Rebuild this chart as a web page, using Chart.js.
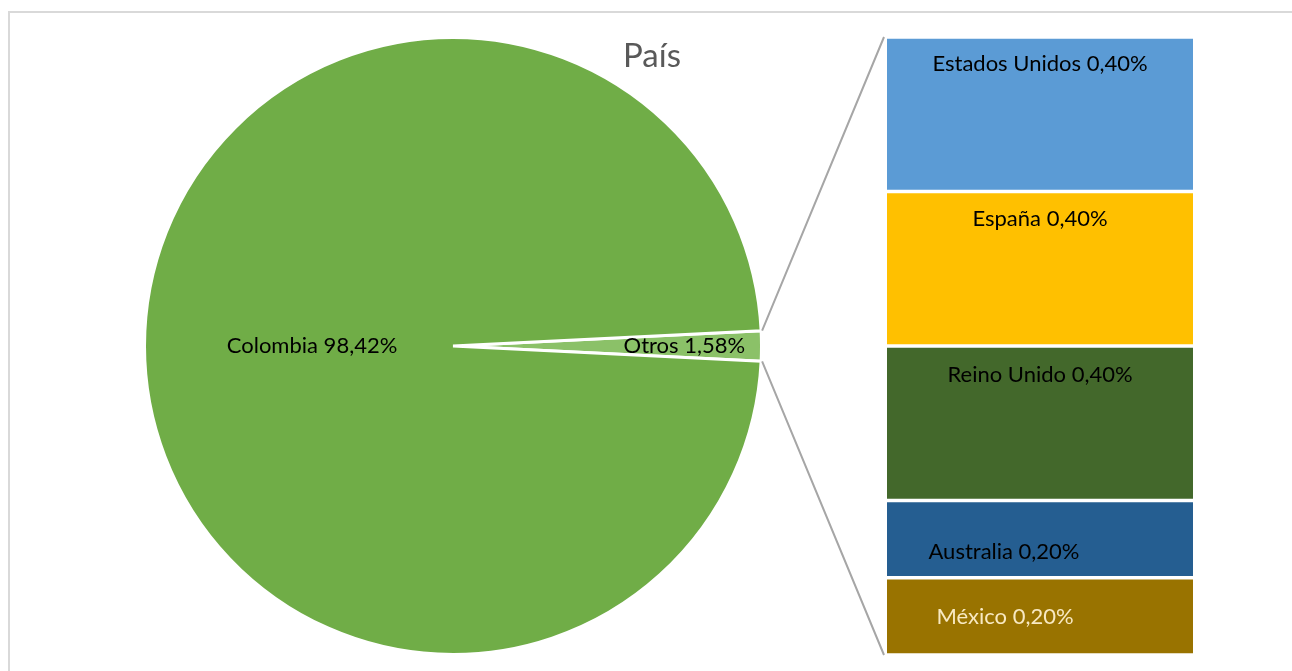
<!DOCTYPE html>
<html>
<head>
<meta charset="utf-8">
<script src="https://cdn.jsdelivr.net/npm/chart.js@4.4.1/dist/chart.umd.min.js"></script>
<style>
  html, body { margin: 0; padding: 0; background: #fff; }
  #page { position: relative; width: 1292px; height: 671px; overflow: hidden; }
  #frame { position: absolute; left: 8px; top: 11px; width: 1400px; height: 800px;
           border-left: 2px solid #d9d9d9; border-top: 2px solid #d9d9d9; }
  #title { position: absolute; left: 552px; top: 38px; width: 200px; text-align: center;
           font: 33px/33px Lato, sans-serif; color: #595959; }
  #pie { position: absolute; left: 143px; top: 36px; }
  #bar { position: absolute; left: 887px; top: 37px; }
  #links { position: absolute; left: 0; top: 0; pointer-events: none; }
</style>
</head>
<body>
<div id="page">
  <div id="frame"></div>
  <canvas id="pie" width="620" height="620"></canvas>
  <canvas id="bar" width="306" height="618"></canvas>
  <canvas id="links" width="1292" height="671"></canvas>
  <div id="title">País</div>
</div>
<script>
// pie: main split
const pieLabels = ["Otros", "Colombia"];
const pieValues = [1.58, 98.42];
const pieColors = ["#8bc168", "#70ad47"];

// bar: breakdown of "Otros", listed top to bottom
const barLabels = ["Estados Unidos", "España", "Reino Unido", "Australia", "México"];
const barValues = [0.40, 0.40, 0.40, 0.20, 0.20];
const barColors = ["#5b9bd5", "#ffc000", "#43682b", "#255e91", "#997300"];

const LABEL_FONT = "22px Lato, sans-serif";
// where each label sits: pie as fraction of radius, bar as fraction of segment height + x nudge
const PIE_LABEL_RADIUS = [0.75, 0.457];
const BAR_LABEL_POS = [
  { fy: 0.173, dx: 0, color: "#000" },
  { fy: 0.18, dx: 0, color: "#000" },
  { fy: 0.187, dx: 0, color: "#000" },
  { fy: 0.67, dx: -36, color: "#000" },
  { fy: 0.51, dx: -35, color: "#f8e9c2" },
];

function pct(v) {
  return v.toFixed(2).replace(".", ",") + "%";
}

const pieLabelPlugin = {
  id: "pieLabels",
  afterDatasetsDraw(chart) {
    const ctx = chart.ctx;
    ctx.save();
    ctx.font = LABEL_FONT;
    ctx.fillStyle = "#000";
    ctx.textAlign = "center";
    ctx.textBaseline = "middle";
    chart.getDatasetMeta(0).data.forEach((arc, i) => {
      const p = arc.getProps(["x", "y", "startAngle", "endAngle", "outerRadius"], true);
      const mid = (p.startAngle + p.endAngle) / 2;
      const r = p.outerRadius * PIE_LABEL_RADIUS[i];
      ctx.fillText(pieLabels[i] + " " + pct(pieValues[i]), p.x + Math.cos(mid) * r, p.y + Math.sin(mid) * r);
    });
    ctx.restore();
  }
};

const pieChart = new Chart(document.getElementById("pie"), {
  type: "pie",
  data: {
    labels: pieLabels,
    datasets: [{
      data: pieValues,
      backgroundColor: pieColors,
      borderColor: "#fff",
      borderWidth: 3,
    }]
  },
  options: {
    responsive: false,
    animation: false,
    rotation: 90 - pieValues[0] / 100 * 180,
    layout: { padding: 0 },
    plugins: { legend: { display: false }, tooltip: { enabled: false } }
  },
  plugins: [pieLabelPlugin]
});

// stacked bar draws bottom-up, so reverse the top-to-bottom lists
const barOrder = barLabels.map((_, i) => i).reverse();

const barLabelPlugin = {
  id: "barLabels",
  afterDatasetsDraw(chart) {
    const ctx = chart.ctx;
    ctx.save();
    ctx.font = LABEL_FONT;
    ctx.textAlign = "center";
    ctx.textBaseline = "middle";
    chart.data.datasets.forEach((ds, di) => {
      const i = ds._src;
      const el = chart.getDatasetMeta(di).data[0];
      const p = el.getProps(["x", "y", "base"], true);
      const top = Math.min(p.y, p.base), h = Math.abs(p.base - p.y);
      const pos = BAR_LABEL_POS[i];
      ctx.fillStyle = pos.color;
      ctx.fillText(barLabels[i] + " " + pct(barValues[i]), p.x + pos.dx, top + h * pos.fy);
    });
    ctx.restore();
  },
  afterDraw(chart) {
    drawLinks(chart);
  }
};

function drawLinks(barChart) {
  const cv = document.getElementById("links");
  const ctx = cv.getContext("2d");
  ctx.clearRect(0, 0, cv.width, cv.height);
  const pieCv = document.getElementById("pie");
  const barCv = document.getElementById("bar");
  const arc = pieChart.getDatasetMeta(0).data[0].getProps(["x", "y", "startAngle", "endAngle", "outerRadius"], true);
  const ox = pieCv.offsetLeft + arc.x, oy = pieCv.offsetTop + arc.y, r = arc.outerRadius + 1;
  const metas = barChart.data.datasets.map((_, di) => barChart.getDatasetMeta(di).data[0]);
  const topEl = metas[metas.length - 1].getProps(["x", "y", "width"], true);
  const botEl = metas[0].getProps(["x", "base", "width"], true);
  const leftX = barCv.offsetLeft + topEl.x - topEl.width / 2 - 3;
  ctx.strokeStyle = "#a6a6a6";
  ctx.lineWidth = 2;
  ctx.beginPath();
  ctx.moveTo(ox + Math.cos(arc.startAngle) * r, oy + Math.sin(arc.startAngle) * r);
  ctx.lineTo(leftX, barCv.offsetTop + topEl.y);
  ctx.moveTo(ox + Math.cos(arc.endAngle) * r, oy + Math.sin(arc.endAngle) * r);
  ctx.lineTo(leftX, barCv.offsetTop + botEl.base);
  ctx.stroke();
}

new Chart(document.getElementById("bar"), {
  type: "bar",
  data: {
    labels: ["Otros"],
    datasets: barOrder.map(i => ({
      label: barLabels[i],
      data: [barValues[i]],
      _src: i,
      backgroundColor: barColors[i],
      borderColor: "#fff",
      borderWidth: { top: 2, bottom: 2, left: 0, right: 0 },
      borderSkipped: false,
      barPercentage: 1,
      categoryPercentage: 1,
    }))
  },
  options: {
    responsive: false,
    animation: false,
    layout: { padding: 0 },
    plugins: { legend: { display: false }, tooltip: { enabled: false } },
    scales: {
      x: { display: false, stacked: true },
      y: { display: false, stacked: true, min: 0, max: barValues.reduce((a, b) => a + b, 0) }
    }
  },
  plugins: [barLabelPlugin]
});
</script>
</body>
</html>
